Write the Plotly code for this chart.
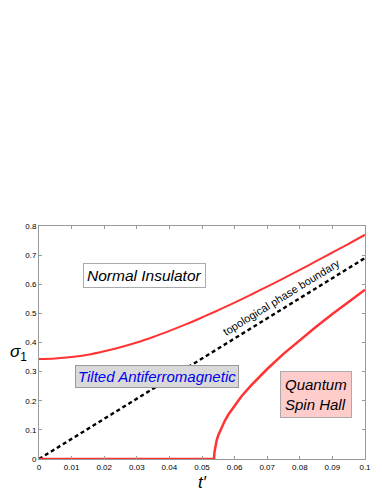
import plotly.graph_objects as go

# upper boundary (Normal Insulator / Tilted AF)
t_upper = [0, 0.005, 0.01, 0.015, 0.02, 0.025, 0.03, 0.035, 0.04, 0.045, 0.05,
           0.055, 0.06, 0.065, 0.07, 0.075, 0.08, 0.085, 0.09, 0.095, 0.1]
s_upper = [0.343, 0.345, 0.350, 0.358, 0.370, 0.384, 0.400, 0.419, 0.440, 0.462, 0.486,
           0.511, 0.537, 0.564, 0.592, 0.620, 0.649, 0.679, 0.709, 0.739, 0.770]

# lower boundary (Tilted AF / Quantum Spin Hall)
t_lower = [0, 0.01, 0.02, 0.03, 0.04, 0.05, 0.0537, 0.0538, 0.054, 0.0545, 0.055, 0.056,
           0.057, 0.058, 0.06, 0.062, 0.065, 0.067, 0.07, 0.075, 0.08, 0.085, 0.09, 0.095, 0.1]
s_lower = [0, 0, 0, 0, 0, 0, 0, 0.022, 0.039, 0.064, 0.082, 0.109,
           0.131, 0.151, 0.184, 0.214, 0.252, 0.276, 0.309, 0.361, 0.409, 0.454, 0.498, 0.540, 0.581]

# topological phase boundary
t_topo = [0, 0.1]
s_topo = [0, 0.69]

x_ticks = [0, 0.01, 0.02, 0.03, 0.04, 0.05, 0.06, 0.07, 0.08, 0.09, 0.1]
x_labels = ['0', '0.01', '0.02', '0.03', '0.04', '0.05', '0.06', '0.07', '0.08', '0.09', '0.1']
y_ticks = [0, 0.1, 0.2, 0.3, 0.4, 0.5, 0.6, 0.7, 0.8]
y_labels = ['0', '0.1', '0.2', '0.3', '0.4', '0.5', '0.6', '0.7', '0.8']

red = '#ff3333'
font = 'Liberation Sans, Arial, sans-serif'

fig = go.Figure()
fig.add_trace(go.Scatter(x=t_topo, y=s_topo, mode='lines',
                         line=dict(color='black', width=2.4, dash='4px,3px')))
fig.add_trace(go.Scatter(x=t_upper, y=s_upper, mode='lines',
                         line=dict(color=red, width=2, shape='spline')))
fig.add_trace(go.Scatter(x=t_lower, y=s_lower, mode='lines',
                         line=dict(color=red, width=2.5)))

# phase labels
fig.add_annotation(x=0.0325, y=0.631, text='<i>Normal Insulator</i>', showarrow=False,
                   font=dict(size=15.5, color='black', family=font),
                   bgcolor='white', bordercolor='#aaaaaa', borderwidth=1, borderpad=3)
fig.add_annotation(x=0.0362, y=0.282, text='<i>Tilted Antiferromagnetic</i>', showarrow=False,
                   font=dict(size=15, color='#0000ee', family=font),
                   bgcolor='#d9d9d9', bordercolor='#999999', borderwidth=1, borderpad=2)
fig.add_annotation(x=0.085, y=0.22, text='<i>Quantum<br>Spin Hall</i>', showarrow=False,
                   align='left', font=dict(size=15, color='black', family=font),
                   bgcolor='#ffcccc', bordercolor='#aaaaaa', borderwidth=1, borderpad=4)
fig.add_annotation(x=0.0745, y=0.555, text='topological phase boundary', showarrow=False,
                   textangle=-31.7, font=dict(size=11, color='black', family=font))

# axis titles
fig.add_annotation(xref='paper', yref='paper', x=-0.095, y=0.455, text='<i>σ</i><sub>1</sub>',
                   showarrow=False, font=dict(size=17, color='black', family=font))
fig.add_annotation(xref='paper', yref='paper', x=0.5, y=-0.15, text='<i>t′</i>',
                   showarrow=False, font=dict(size=17, color='black', family=font))

axis_style = dict(showgrid=False, zeroline=False, showline=True, linecolor='#999999',
                  linewidth=1, mirror='ticks', ticks='inside', ticklen=3, tickcolor='#999999',
                  tickfont=dict(size=8, color='black', family=font))
fig.update_xaxes(range=[0, 0.1], tickvals=x_ticks, ticktext=x_labels, **axis_style)
fig.update_yaxes(range=[0, 0.8], tickvals=y_ticks, ticktext=y_labels, **axis_style)

fig.update_layout(width=382, height=494, showlegend=False,
                  margin=dict(l=39, r=17, t=226, b=35),
                  plot_bgcolor='white', paper_bgcolor='white')

# drop the default page margin so the figure sits at the window's corner
fig.write_html("out.html", config={'displayModeBar': False},
               post_script="document.body.style.margin='0';")
